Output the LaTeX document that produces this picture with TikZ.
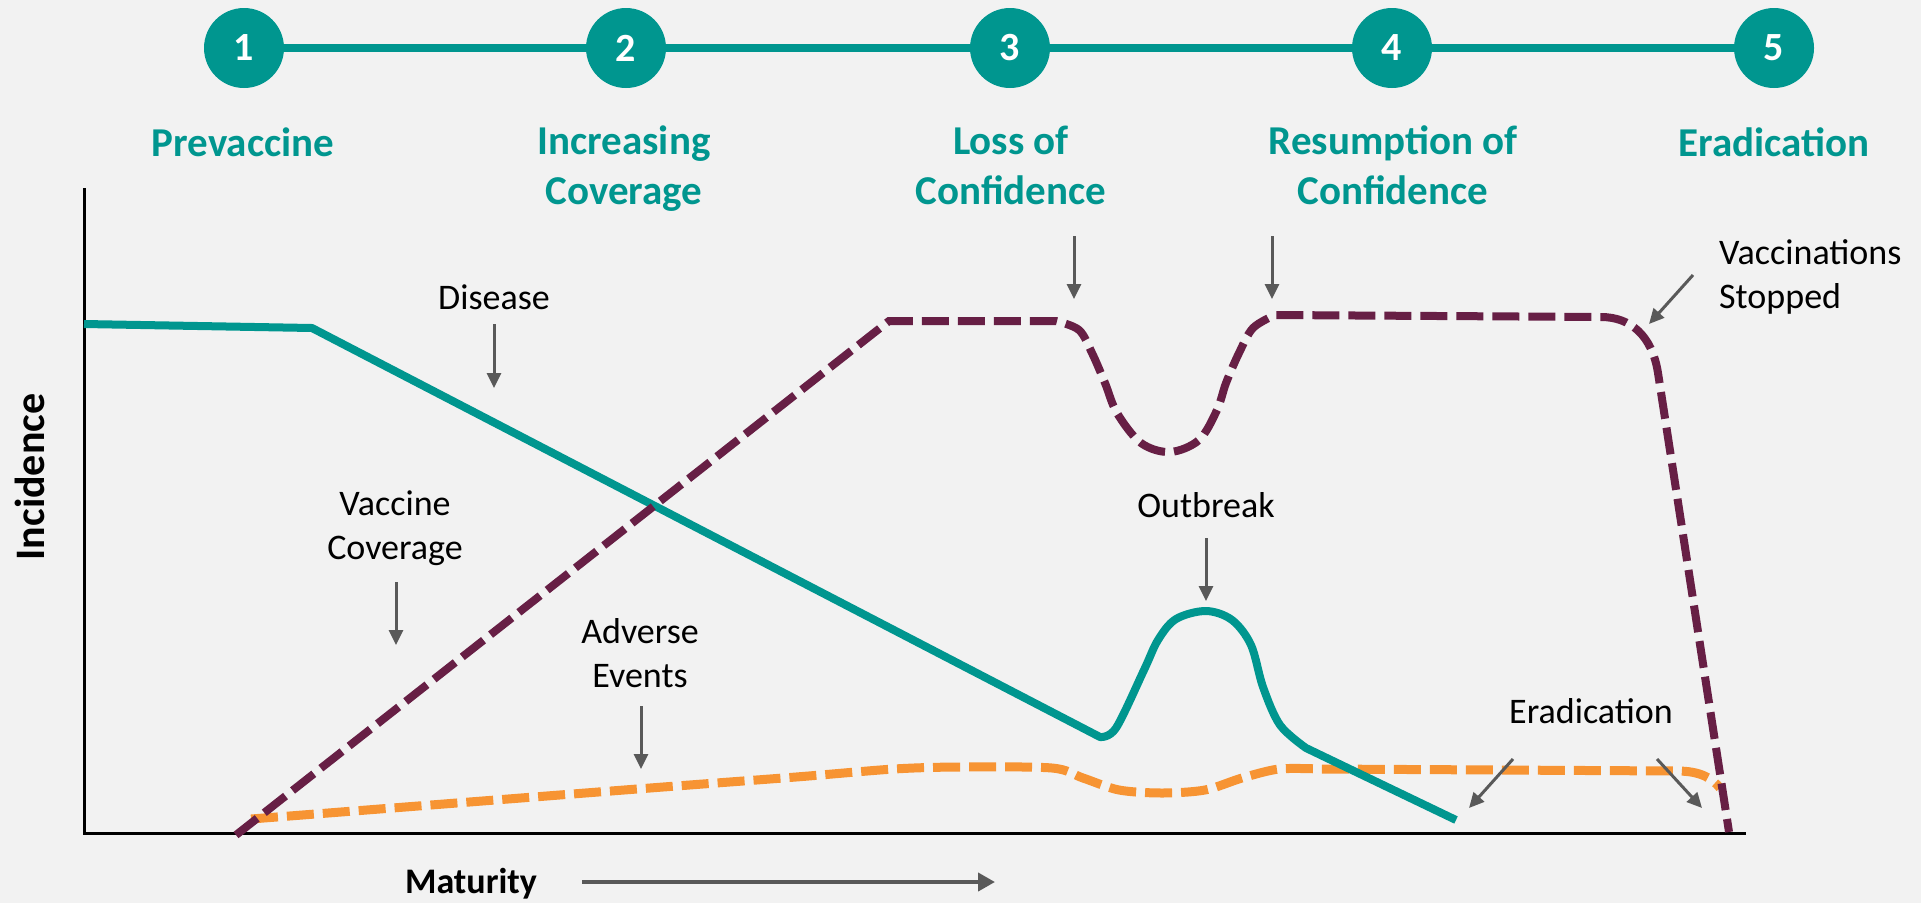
\documentclass[tikz,border=0pt]{standalone}
\usepackage{fontspec}
\setmainfont{Carlito}
\usetikzlibrary{arrows.meta}
\definecolor{tealc}{RGB}{0,150,143}
\definecolor{plum}{RGB}{103,31,69}
\definecolor{orng}{RGB}{247,148,51}
\definecolor{bgc}{RGB}{242,242,242}
\definecolor{arrc}{RGB}{89,89,89}
\begin{document}
\begin{tikzpicture}[x=1pt,y=-1pt,
  stepcircle/.style={circle,fill=tealc,minimum size=80pt,inner sep=0pt,text=white,font=\bfseries\fontsize{40}{48}\selectfont},
  phase/.style={text=tealc,font=\bfseries\fontsize{41}{50}\selectfont,align=center,anchor=base,inner sep=0pt},
  lbl/.style={text=black,font=\fontsize{36}{44}\selectfont,align=center,anchor=base,inner sep=0pt},
  ann/.style={draw=arrc,line width=3pt,-{Triangle[length=15pt,width=14pt]}},
  link/.style={draw=tealc,line width=8pt},
  disease/.style={draw=tealc,line width=8pt,line join=round},
  coverage/.style={draw=plum,line width=8pt,dash pattern=on 27pt off 9pt},
  adverse/.style={draw=orng,line width=9pt,dash pattern=on 27pt off 9pt}
]
\fill[bgc] (0,0) rectangle (1921,903);
\useasboundingbox (0,0) rectangle (1921,903);

% timeline
\node[stepcircle] (c1) at (244,48) {1};
\node[stepcircle] (c2) at (626,48) {2};
\node[stepcircle] (c3) at (1010,48) {3};
\node[stepcircle] (c4) at (1392,48) {4};
\node[stepcircle] (c5) at (1774,48) {5};
\draw[link] (c1.east) -- (c2.west);
\draw[link] (c2.east) -- (c3.west);
\draw[link] (c3.east) -- (c4.west);
\draw[link] (c4.east) -- (c5.west);

% multi-line nodes: base anchor = last line's baseline
\node[phase] (p1) at (243,156) {Prevaccine};
\node[phase] (p2) at (624,204) {Increasing\\Coverage};
\node[phase] (p3) at (1011,204) {Loss of\\Confidence};
\node[phase] (p4) at (1393,204) {Resumption of\\Confidence};
\node[phase] (p5) at (1774,156) {Eradication};

% axes
\draw[black,line width=3pt] (84,188) -- (84,833) -- (1746,833);
\node[font=\bfseries\fontsize{42}{50}\selectfont,rotate=90] (yl) at (30,477) {Incidence};
\node[font=\bfseries\fontsize{36}{44}\selectfont,anchor=base,inner sep=0pt] (xl) at (471,893) {Maturity};
\coordinate (ma) at (582,882);
\coordinate (mb) at (995,882);
\draw[draw=arrc,line width=4pt,-{Triangle[length=17pt,width=18pt]}] (ma) -- (mb);

% curves
\draw[adverse] plot[smooth,tension=0.5] coordinates {(251,819) (637,789) (796,777) (894,769) (960,767) (1052,768) (1083,778) (1119,790) (1162,793) (1205,790) (1242,778) (1279,769) (1320,769)}
  -- (1677,771) .. controls (1700,771) and (1712,778) .. (1720,788);

\draw[disease] (84,324) -- (312,328) -- (1100,737)
  -- plot[smooth,tension=0.55] coordinates {(1100,737) (1116,728) (1144,670) (1158,640) (1176,619) (1206,611) (1232,620) (1251,645) (1263,687) (1280,725) (1306,748)}
  -- (1456,820);

\draw[coverage] (236,835) -- (889,321) -- (1056,321)
  -- plot[smooth,tension=0.55] coordinates {(1056,321) (1079,330) (1092,353) (1105,383) (1117,413) (1141,443) (1170,452) (1199,440) (1217,410) (1226,383) (1239,353) (1253,328) (1275,315)}
  -- (1601,317) .. controls (1630,317) and (1652,335) .. (1658,373) -- (1729,832);

% annotations
\node[lbl] (tdis) at (494,309) {Disease};
\coordinate (dis1) at (494,324); \coordinate (dis2) at (494,388);
\draw[ann] (dis1) -- (dis2);

\node[lbl] (tvac) at (395,559) {Vaccine\\Coverage};
\coordinate (vac1) at (396,582); \coordinate (vac2) at (396,645);
\draw[ann] (vac1) -- (vac2);

\node[lbl] (tadv) at (640,687) {Adverse\\Events};
\coordinate (adv1) at (641,706); \coordinate (adv2) at (641,769);
\draw[ann] (adv1) -- (adv2);

\coordinate (loss1) at (1074,236); \coordinate (loss2) at (1074,299);
\draw[ann] (loss1) -- (loss2);
\coordinate (res1) at (1272,236); \coordinate (res2) at (1272,299);
\draw[ann] (res1) -- (res2);

\node[lbl] (tout) at (1206,517) {Outbreak};
\coordinate (out1) at (1206,538); \coordinate (out2) at (1206,601);
\draw[ann] (out1) -- (out2);

\node[lbl,align=left,anchor=base west] (tstop) at (1719,308) {Vaccinations\\Stopped};
\coordinate (stop1) at (1693,275); \coordinate (stop2) at (1649,324);
\draw[ann] (stop1) -- (stop2);

\node[lbl] (terad) at (1591,723) {Eradication};
\coordinate (era1) at (1513,759); \coordinate (era2) at (1469,808);
\draw[ann] (era1) -- (era2);
\coordinate (erb1) at (1657,759); \coordinate (erb2) at (1702,808);
\draw[ann] (erb1) -- (erb2);
\end{tikzpicture}
\end{document}
